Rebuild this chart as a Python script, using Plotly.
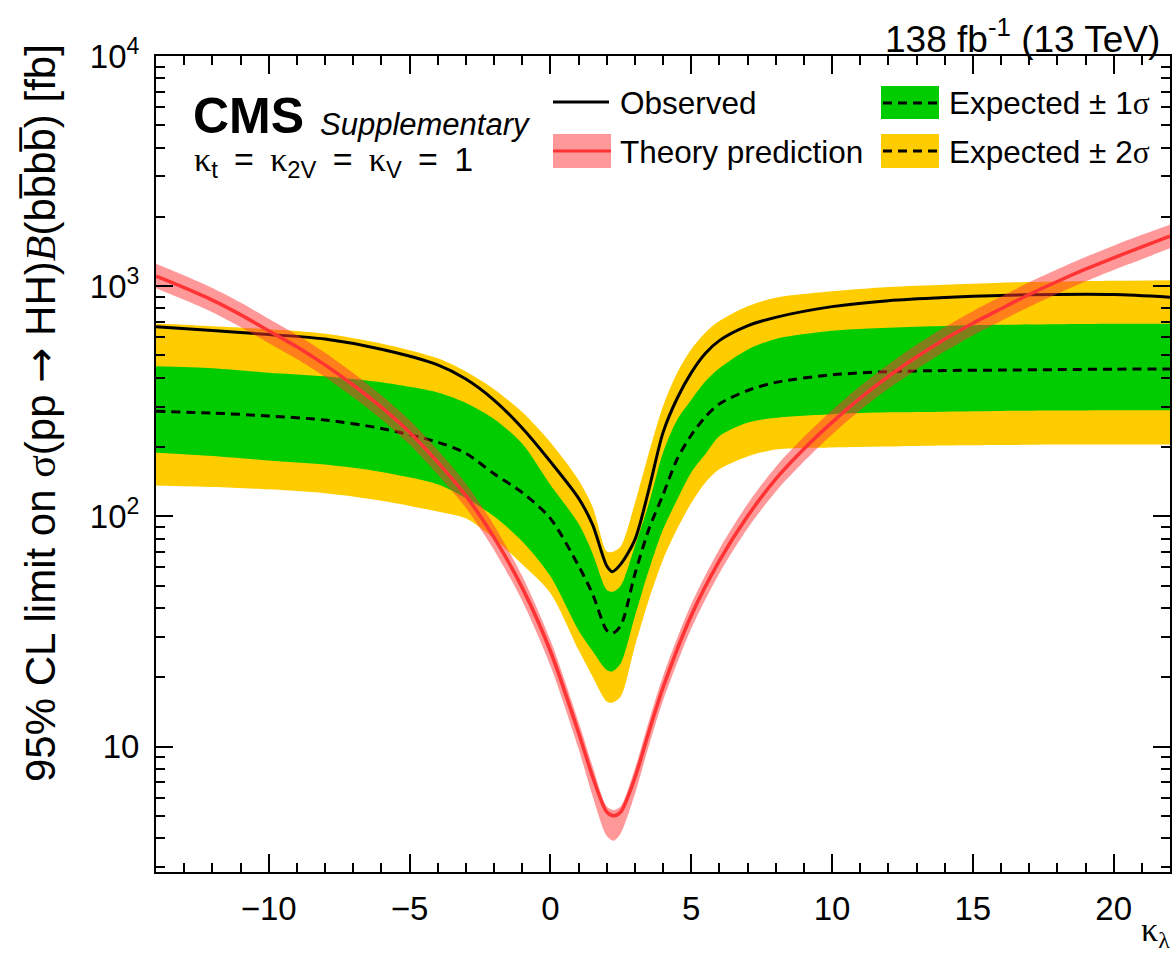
import plotly.graph_objects as go

# ---------------- data ----------------
kl = [-14, -12, -10, -8, -6, -4, -3, -2, -1, 0, 1, 1.5, 2, 2.2, 2.5, 3, 3.5, 4, 4.5,
      5, 5.5, 6, 7, 8, 10, 12, 14, 16, 18, 20, 22]

observed = [666, 642, 617, 589, 532, 455, 395, 320, 242, 173, 120, 92, 61, 57.5, 62, 79, 131, 231, 325,
            420, 510, 580, 672, 732, 815, 865, 893, 912, 921, 920, 896]

expected = [286, 281, 273, 262, 241, 210, 188, 153, 127, 98, 61, 46, 32, 31, 33.5, 56, 88, 124, 177,
            225, 270, 308, 352, 382, 412, 425, 430, 432, 434, 436, 437]

exp_1s_hi = [449, 440, 421, 406, 382, 345, 311, 265, 207, 137, 93, 69, 48, 47, 50, 74, 114, 189, 262,
             320, 385, 440, 530, 590, 640, 660, 672, 679, 683, 686, 686]
exp_1s_lo = [189, 183, 175, 168, 156, 138, 120, 100, 78, 55, 32, 26, 21.5, 21.2, 23, 36.7, 58.6, 87.6, 118,
             155, 186, 223, 255, 268, 278, 283, 285, 287, 288, 289, 289]

exp_2s_hi = [688, 670, 650, 622, 564, 486, 426, 357, 284, 210, 144, 110, 70.5, 70, 74, 114, 189, 301, 420,
             531, 628, 705, 818, 891, 950, 992, 1015, 1035, 1048, 1056, 1062]
exp_2s_lo = [136, 134, 131, 126, 117, 105, 98, 80, 62, 46.5, 26.3, 20.1, 15.7, 15.5, 16.5, 27.2, 43.5, 64.8, 88,
             114, 140, 160, 182, 195, 199, 201, 203, 204, 205, 205, 205]

kl_th = [-14, -13, -12, -11, -10, -9, -8, -7, -6, -5, -4, -3, -2, -1, 0, 1, 1.5, 2, 2.25, 2.5, 3,
         3.5, 4, 5, 6, 7, 8, 9, 10, 11, 12, 13, 14, 15, 16, 17, 18, 19, 20, 21, 22]
theory = [1105, 985, 870, 752, 640, 545, 455, 372, 298, 232, 172, 123, 81, 49, 26, 11.5, 7.4, 5.2, 5.0, 5.2, 7.3,
          11.6, 18, 37, 64, 100, 145, 196, 256, 326, 405, 492, 588, 690, 798, 920, 1048, 1185, 1328, 1480, 1648]
theory_hi = [1250, 1112, 982, 849, 722, 615, 514, 420, 336, 262, 194, 139, 91.5, 55, 29, 12.8, 8.2, 5.5, 5.3, 5.5, 8.0,
             12.9, 20.2, 41.5, 72, 113, 164, 221, 289, 368, 457, 556, 664, 779, 901, 1039, 1183, 1338, 1499, 1671, 1850]
theory_lo = [980, 872, 770, 665, 566, 482, 403, 329, 264, 205, 152, 109, 71.5, 43, 22.5, 9.8, 6.1, 4.1, 3.9, 4.2, 6.2,
             10.1, 15.8, 32.5, 56.5, 88.5, 128, 173, 227, 289, 358, 435, 520, 611, 706, 814, 928, 1049, 1176, 1310, 1460]

x_ticks = [-10, -5, 0, 5, 10, 15, 20]
y_ticks = [10, 100, 1000, 10000]
y_ticktext = ["10", "10<sup>2</sup>", "10<sup>3</sup>", "10<sup>4</sup>"]

# ---------------- styling ----------------
W, H = 1173, 954
L, R, T, B = 156, 3, 56, 82
FONT = "Liberation Sans, Arial, Helvetica, sans-serif"
SERIF = "Liberation Serif, Times New Roman, serif"
YELLOW = "#FFCC00"
GREEN = "#00CC00"
RED = "#FF3333"
PINK = "rgba(255,51,51,0.5)"
XR = [-14, 22]
YR = [0.4548, 4]
EQ = " \u2009=\u2009 "


def px(x):
    return (x - L) / (W - L - R)


def py(y):
    return (H - B - y) / (H - T - B)


def g(s):
    return "<span style='font-family:%s'>%s</span>" % (SERIF, s)


fig = go.Figure()
SPL = dict(shape="spline", smoothing=0.8)


def band(xs, lo, hi, color):
    fig.add_trace(go.Scatter(x=xs, y=lo, mode="lines", line=dict(width=0, **SPL),
                             hoverinfo="skip", showlegend=False))
    fig.add_trace(go.Scatter(x=xs, y=hi, mode="lines", line=dict(width=0, **SPL),
                             fill="tonexty", fillcolor=color,
                             hoverinfo="skip", showlegend=False))


band(kl, exp_2s_lo, exp_2s_hi, YELLOW)
band(kl, exp_1s_lo, exp_1s_hi, GREEN)

fig.add_trace(go.Scatter(x=kl, y=expected, mode="lines",
                         line=dict(color="black", width=3, dash="9px,6px", **SPL),
                         showlegend=False))
fig.add_trace(go.Scatter(x=kl, y=observed, mode="lines",
                         line=dict(color="black", width=3, **SPL),
                         showlegend=False))

band(kl_th, theory_lo, theory_hi, PINK)
fig.add_trace(go.Scatter(x=kl_th, y=theory, mode="lines",
                         line=dict(color=RED, width=3.5, **SPL),
                         showlegend=False))

# invisible trace hosting the mirrored (top / right) tick axes
fig.add_trace(go.Scatter(x=[kl[0]], y=[observed[0]], xaxis="x2", yaxis="y2",
                         mode="markers", marker=dict(opacity=0), hoverinfo="skip",
                         showlegend=False))

tickfont = dict(family=FONT, size=33, color="black")
minor_y = [m * d for d in (1, 10, 100, 1000) for m in range(2, 10)]

xmain = dict(range=XR, tickvals=x_ticks, ticks="inside", ticklen=18, tickwidth=2,
             tickcolor="black", showline=True, linecolor="black", linewidth=2,
             mirror=True, showgrid=False, zeroline=False, automargin=False,
             tickfont=tickfont, ticklabelstandoff=6,
             minor=dict(dtick=1, tick0=0, ticks="inside", ticklen=9,
                        tickcolor="black", tickwidth=2, showgrid=False))
ymain = dict(type="log", range=YR, tickvals=y_ticks, ticktext=y_ticktext,
             ticks="inside", ticklen=17, tickwidth=2, tickcolor="black",
             showline=True, linecolor="black", linewidth=2, mirror=True,
             showgrid=False, zeroline=False, automargin=False,
             tickfont=tickfont, ticklabelstandoff=8,
             minor=dict(tickvals=minor_y, ticks="inside", ticklen=9,
                        tickcolor="black", tickwidth=2, showgrid=False))
x2 = dict(xmain)
x2.update(overlaying="x", side="top", showticklabels=False, showline=False, mirror=False)
y2 = dict(ymain)
y2.update(overlaying="y", side="right", showticklabels=False, showline=False, mirror=False)

ann = []


def text(x, y, s, size, xanchor="left", yanchor="middle", angle=0, family=FONT):
    ann.append(dict(x=px(x), y=py(y), xref="paper", yref="paper", text=s,
                    showarrow=False, xanchor=xanchor, yanchor=yanchor, textangle=angle,
                    font=dict(family=family, size=size, color="black")))


text(191, 116, "<b>CMS</b>", 50)
text(318, 124, "<i>Supplementary</i>", 31)
text(192, 161, g("κ") + "<sub>t</sub>" + EQ + g("κ") + "<sub>2V</sub>" + EQ +
     g("κ") + "<sub>V</sub>" + EQ + "1", 34)
text(1162, 36, "138 fb<sup>-1</sup> (13 TeV)", 37, xanchor="right")
text(618, 103, "Observed", 31.5)
text(618, 152, "Theory prediction", 31.5)
text(947, 103, "Expected ± 1" + g("σ"), 31.5)
text(947, 152, "Expected ± 2" + g("σ"), 31.5)
text(1172, 932, "κ<sub>λ</sub>", 34, xanchor="right", family=SERIF)
text(40, 42, "95% CL limit on " + g("σ") + "(pp " +
     "<span style='font-family:DejaVu Sans'>→</span> HH)" + g("<i>B</i>") +
     "(bb\u0305bb\u0305) [fb]", 42, xanchor="center", yanchor="top", angle=-90)

shapes = []


def rect(x0, x1, y0, y1, color):
    shapes.append(dict(type="rect", xref="paper", yref="paper",
                       x0=px(x0), x1=px(x1), y0=py(y0), y1=py(y1),
                       fillcolor=color, line=dict(width=0), layer="above"))


def hline(x0, x1, y, color, dash="solid", width=3):
    shapes.append(dict(type="line", xref="paper", yref="paper",
                       x0=px(x0), x1=px(x1), y0=py(y), y1=py(y),
                       line=dict(color=color, width=width, dash=dash), layer="above"))


hline(553, 609, 102, "black")
rect(553, 611, 134, 168, PINK)
hline(553, 611, 151, RED)
rect(881, 939, 86, 119, GREEN)
hline(883, 939, 103, "black", dash="9px,6px")
rect(881, 939, 134, 168, YELLOW)
hline(883, 939, 151, "black", dash="9px,6px")

fig.update_layout(
    width=W, height=H,
    margin=dict(l=L, r=R, t=T, b=B, pad=0, autoexpand=False),
    paper_bgcolor="white", plot_bgcolor="white",
    xaxis=xmain, yaxis=ymain, xaxis2=x2, yaxis2=y2,
    annotations=ann, shapes=shapes,
    showlegend=False,
    font=dict(family=FONT, color="black"),
)

fig.write_html("out.html",
               config={"displayModeBar": False},
               post_script="document.body.style.margin='0px';"
                           "document.body.style.overflow='hidden';")
